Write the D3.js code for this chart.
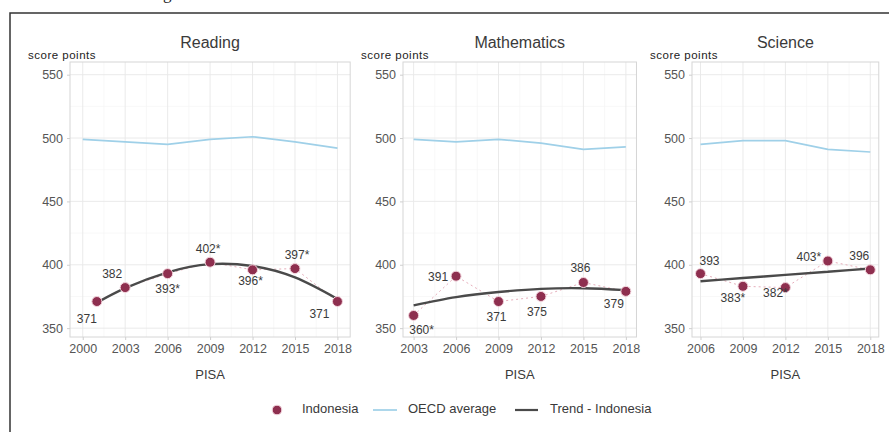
<!DOCTYPE html>
<html>
<head>
<meta charset="utf-8">
<script src="https://cdn.jsdelivr.net/npm/d3@7"></script>
<style>
  body { margin: 0; background: #fff; }
  svg { display: block; font-family: "Liberation Sans", Arial, sans-serif; }
</style>
</head>
<body>
<div id="chart"></div>
<script>
// Chart size
const width = 889;
const height = 432;

// Data
const subjects = ["Reading", "Mathematics", "Science"];

const readingYears = [2001, 2003, 2006, 2009, 2012, 2015, 2018];
const readingScores = [371, 382, 393, 402, 396, 397, 371];
const readingLabels = ["371", "382", "393*", "402*", "396*", "397*", "371"];
const readingTrend = [370, 381.5, 394, 400.5, 399, 390, 373];
const readingOecdYears = [2000, 2003, 2006, 2009, 2012, 2015, 2018];
const readingOecd = [499, 497, 495, 499, 501, 497, 492];
const readingTicks = [2000, 2003, 2006, 2009, 2012, 2015, 2018];

const mathYears = [2003, 2006, 2009, 2012, 2015, 2018];
const mathScores = [360, 391, 371, 375, 386, 379];
const mathLabels = ["360*", "391", "371", "375", "386", "379"];
const mathTrend = [368, 374.5, 378.5, 381, 381.5, 380];
const mathOecd = [499, 497, 499, 496, 491, 493];
const mathTicks = [2003, 2006, 2009, 2012, 2015, 2018];

const scienceYears = [2006, 2009, 2012, 2015, 2018];
const scienceScores = [393, 383, 382, 403, 396];
const scienceLabels = ["393", "383*", "382*", "403*", "396"];
const scienceTrend = [387, 389.5, 392, 394.5, 397];
const scienceOecd = [495, 498, 498, 491, 489];
const scienceTicks = [2006, 2009, 2012, 2015, 2018];

const yTicks = [350, 400, 450, 500, 550];
const legendItems = ["Indonesia", "OECD average", "Trend - Indonesia"];

// Label placement (dx, dy from the point)
const readingLabelPos = [[-10, 18], [-13, -13], [0, 16], [-2, -12], [-2, 12], [2, -13], [-18, 13]];
const mathLabelPos = [[8, 15], [-18, 2], [-2, 16], [-4, 16], [-3, -14], [-12, 13]];
const scienceLabelPos = [[9, -12], [-10, 13], [-10, 6], [-19, -3], [-11, -13]];

// Layout
const pxPerYear = 14.15;
const plotTop = 62;
const plotBottom = 337;
const panelLeft = [70, 403, 692];

const colPoint = "#8e2f4f";
const colOecd = "#9fd0e8";
const colTrend = "#4a4a4a";
const colText = "#3a3a3a";

const panels = [
    { title: subjects[0], years: readingYears, scores: readingScores, labels: readingLabels,
      trend: readingTrend, oecdYears: readingOecdYears, oecd: readingOecd, ticks: readingTicks, pos: readingLabelPos },
    { title: subjects[1], years: mathYears, scores: mathScores, labels: mathLabels,
      trend: mathTrend, oecdYears: mathYears, oecd: mathOecd, ticks: mathTicks, pos: mathLabelPos },
    { title: subjects[2], years: scienceYears, scores: scienceScores, labels: scienceLabels,
      trend: scienceTrend, oecdYears: scienceYears, oecd: scienceOecd, ticks: scienceTicks, pos: scienceLabelPos }
];

const svg = d3.select("#chart")
    .append("svg")
    .attr("width", width)
    .attr("height", height)
    .attr("viewBox", [0, 0, width, height]);

// Cut-off text from the page above
svg.append("text")
    .attr("x", 163)
    .attr("y", -1)
    .attr("font-family", "Liberation Serif, serif")
    .attr("font-size", 17)
    .attr("fill", "#222")
    .text("g");

// Outer frame (top and left edge)
svg.append("path")
    .attr("d", `M10,${height} L10,13 L${width},13`)
    .attr("fill", "none")
    .attr("stroke", "#333")
    .attr("stroke-width", 1.5);

const y = d3.scaleLinear()
    .domain([343, 560])
    .range([plotBottom, plotTop]);

panels.forEach((p, i) => {
    const lo = d3.min(p.ticks), hi = d3.max(p.ticks);
    const pad = (hi - lo) * 0.05;
    const x0 = panelLeft[i];
    const x1 = x0 + (hi - lo + 2 * pad) * pxPerYear;
    const x = d3.scaleLinear().domain([lo - pad, hi + pad]).range([x0, x1]);

    const g = svg.append("g");

    // Minor grid
    const minorX = d3.range(lo + 1.5, hi, 3);
    g.selectAll("line.minorx")
        .data(minorX)
        .join("line")
        .attr("x1", d => x(d)).attr("x2", d => x(d))
        .attr("y1", plotTop).attr("y2", plotBottom)
        .attr("stroke", "#f3f3f3").attr("stroke-width", 0.6);
    g.selectAll("line.minory")
        .data([375, 425, 475, 525])
        .join("line")
        .attr("x1", x0).attr("x2", x1)
        .attr("y1", d => y(d)).attr("y2", d => y(d))
        .attr("stroke", "#f3f3f3").attr("stroke-width", 0.6);

    // Major grid
    g.selectAll("line.majorx")
        .data(p.ticks)
        .join("line")
        .attr("x1", d => x(d)).attr("x2", d => x(d))
        .attr("y1", plotTop).attr("y2", plotBottom)
        .attr("stroke", "#e8e8e8").attr("stroke-width", 0.9);
    g.selectAll("line.majory")
        .data(yTicks)
        .join("line")
        .attr("x1", x0).attr("x2", x1)
        .attr("y1", d => y(d)).attr("y2", d => y(d))
        .attr("stroke", "#e8e8e8").attr("stroke-width", 0.9);

    // Panel border
    g.append("rect")
        .attr("x", x0).attr("y", plotTop)
        .attr("width", x1 - x0).attr("height", plotBottom - plotTop)
        .attr("fill", "none")
        .attr("stroke", "#d6d6d6").attr("stroke-width", 1);

    // Axes
    const xAxis = g.append("g")
        .attr("transform", `translate(0,${plotBottom})`)
        .call(d3.axisBottom(x).tickValues(p.ticks).tickFormat(d3.format("d")).tickSize(3).tickPadding(4));
    const yAxis = g.append("g")
        .attr("transform", `translate(${x0},0)`)
        .call(d3.axisLeft(y).tickValues(yTicks).tickSize(3).tickPadding(4));
    [xAxis, yAxis].forEach(a => {
        a.select(".domain").remove();
        a.selectAll(".tick line").attr("stroke", "#cfcfcf");
        a.selectAll(".tick text")
            .attr("fill", "#555")
            .attr("font-size", 12.5)
            .attr("font-family", "Liberation Sans, Arial, sans-serif");
    });

    // Titles
    g.append("text")
        .attr("x", (x0 + x1) / 2).attr("y", 48)
        .attr("text-anchor", "middle")
        .attr("font-size", 16)
        .attr("fill", colText)
        .text(p.title);
    g.append("text")
        .attr("x", x0 - 42).attr("y", 59)
        .attr("font-size", 11.5)
        .attr("letter-spacing", 0.5)
        .attr("fill", "#222")
        .text("score points");
    g.append("text")
        .attr("x", (x0 + x1) / 2).attr("y", 379)
        .attr("text-anchor", "middle")
        .attr("font-size", 13)
        .attr("fill", colText)
        .text("PISA");

    // OECD average
    g.append("path")
        .datum(p.oecdYears.map((yr, j) => [yr, p.oecd[j]]))
        .attr("fill", "none")
        .attr("stroke", colOecd)
        .attr("stroke-width", 1.7)
        .attr("d", d3.line().x(d => x(d[0])).y(d => y(d[1])));

    // Dotted link between Indonesia points
    const pts = p.years.map((yr, j) => [yr, p.scores[j]]);
    g.append("path")
        .datum(pts)
        .attr("fill", "none")
        .attr("stroke", "#e6aebb")
        .attr("stroke-width", 1)
        .attr("stroke-dasharray", "2,3")
        .attr("d", d3.line().x(d => x(d[0])).y(d => y(d[1])));

    // Trend
    g.append("path")
        .datum(p.years.map((yr, j) => [yr, p.trend[j]]))
        .attr("fill", "none")
        .attr("stroke", colTrend)
        .attr("stroke-width", 2.4)
        .attr("d", d3.line().curve(d3.curveNatural).x(d => x(d[0])).y(d => y(d[1])));

    // Points
    g.selectAll("circle.pt")
        .data(pts)
        .join("circle")
        .attr("cx", d => x(d[0]))
        .attr("cy", d => y(d[1]))
        .attr("r", 5)
        .attr("fill", colPoint)
        .attr("stroke", "#f4d6de")
        .attr("stroke-width", 1);

    // Labels
    g.selectAll("text.lbl")
        .data(pts)
        .join("text")
        .attr("x", (d, j) => x(d[0]) + p.pos[j][0])
        .attr("y", (d, j) => y(d[1]) + p.pos[j][1])
        .attr("text-anchor", "middle")
        .attr("dominant-baseline", "middle")
        .attr("font-size", 12)
        .attr("fill", colText)
        .text((d, j) => p.labels[j]);
});

// Legend
const legY = 410;
const leg = svg.append("g");
leg.append("circle")
    .attr("cx", 277).attr("cy", legY).attr("r", 4.8)
    .attr("fill", colPoint).attr("stroke", "#f4d6de");
leg.append("text")
    .attr("x", 302).attr("y", legY).attr("dominant-baseline", "middle")
    .attr("font-size", 13).attr("fill", colText).text(legendItems[0]);
leg.append("line")
    .attr("x1", 373).attr("x2", 397).attr("y1", legY).attr("y2", legY)
    .attr("stroke", colOecd).attr("stroke-width", 1.7);
leg.append("text")
    .attr("x", 408).attr("y", legY).attr("dominant-baseline", "middle")
    .attr("font-size", 13).attr("fill", colText).text(legendItems[1]);
leg.append("line")
    .attr("x1", 515).attr("x2", 538).attr("y1", legY).attr("y2", legY)
    .attr("stroke", colTrend).attr("stroke-width", 2.2);
leg.append("text")
    .attr("x", 550).attr("y", legY).attr("dominant-baseline", "middle")
    .attr("font-size", 13).attr("fill", colText).text(legendItems[2]);
</script>
</body>
</html>
